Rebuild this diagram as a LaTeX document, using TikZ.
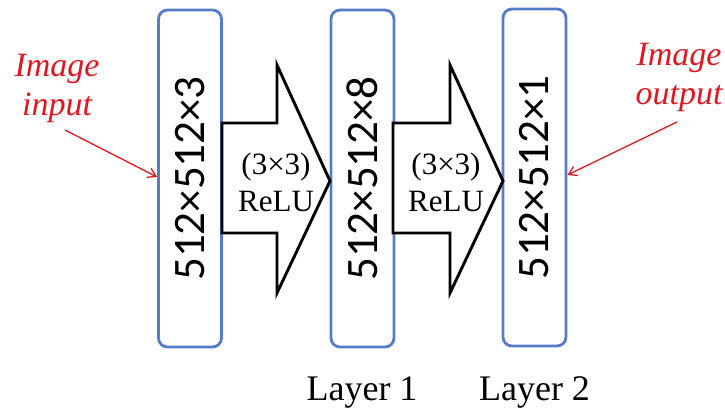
\documentclass[tikz,border=0pt]{standalone}
\usepackage{fontspec}
\setmainfont{Liberation Serif}
\newfontfamily\boxfont{Carlito}
\usetikzlibrary{arrows.meta,calc}
\definecolor{boxblue}{RGB}{84,124,200}
\definecolor{labred}{RGB}{222,24,32}
\begin{document}
\begin{tikzpicture}[x=1pt,y=-1pt,
  layerbox/.style={draw=boxblue, line width=2.8pt, rounded corners=9pt,
    minimum width=63pt, minimum height=337pt, inner sep=0pt},
  boxlabel/.style={rotate=90, font=\boxfont\fontsize{45}{45}\selectfont},
  blockarrow/.style={draw=black, line width=2.9pt, fill=white, line join=miter},
  oplabel/.style={align=center, font=\fontsize{31}{37}\selectfont, inner sep=0pt},
  layerlabel/.style={anchor=base, font=\fontsize{36}{40}\selectfont, inner sep=0pt},
  redlabel/.style={align=center, text=labred, font=\itshape\fontsize{34}{39}\selectfont, inner sep=0pt},
  redarrow/.style={draw=labred, line width=1.3pt, -{Straight Barb[length=8pt,width=10pt]}}
]
\useasboundingbox (0,0) rectangle (725,408);

% layer boxes
\node[layerbox] (b1) at (190,178.5) {};
\node[layerbox] (b2) at (362.5,178.5) {};
\node[layerbox] (b3) at (534.5,177.5) {};

% block arrows
\draw[blockarrow] (222,123) -- (277,123) -- (277,65) -- (330,181) -- (277,293) -- (277,233) -- (222,233) -- cycle;
\draw[blockarrow] (393,123) -- (450,123) -- (450,65) -- (503,181) -- (450,293) -- (450,233) -- (393,233) -- cycle;

% box labels
\node[boxlabel] (t1) at (b1.center) {512×512×3};
\node[boxlabel] (t2) at (b2.center) {512×512×8};
\node[boxlabel] (t3) at (b3.center) {512×512×1};

% operation labels
\node[oplabel] (op1) at (276,182) {(3×3)\\ReLU};
\node[oplabel] (op2) at (446,182) {(3×3)\\ReLU};

% layer labels
\node[layerlabel] (l1) at (362,400) {Layer 1};
\node[layerlabel] (l2) at (534.5,400) {Layer 2};

% input / output labels
\node[redlabel] (in) at (57,88) {Image\\input};
\node[redlabel] (out) at (679,77) {Image\\output};

\coordinate (ins) at (65,130);
\coordinate (outs) at (677,122);
\draw[redarrow] (ins) -- (b1.west |- 0,177);
\draw[redarrow] (outs) -- (b3.east |- 0,175);
\end{tikzpicture}
\end{document}
